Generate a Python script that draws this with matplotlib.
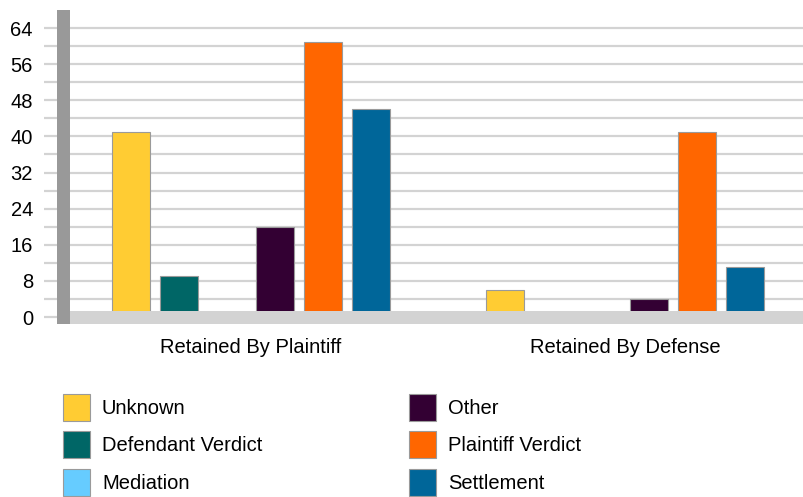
import matplotlib
matplotlib.use("Agg")
import matplotlib.pyplot as plt
from matplotlib.patches import Rectangle
import numpy as np

plt.rcParams['font.family'] = ['Liberation Sans', 'DejaVu Sans']

categories = ["Retained By Plaintiff", "Retained By Defense"]
series_names = ["Unknown", "Defendant Verdict", "Mediation", "Other", "Plaintiff Verdict", "Settlement"]
colors = ["#FFCC33", "#006666", "#66CCFF", "#330033", "#FF6600", "#006699"]
unknown = [41, 6]
defendant_verdict = [9, 0]
mediation = [0, 0]
other = [20, 4]
plaintiff_verdict = [61, 41]
settlement = [46, 11]
series_values = [unknown, defendant_verdict, mediation, other, plaintiff_verdict, settlement]
yticks = [0, 8, 16, 24, 32, 40, 48, 56, 64]

FS = 14.5
W, H = 804, 497
fig = plt.figure(figsize=(W / 100, H / 100), dpi=100)
ax = fig.add_axes([44 / W, 1 - 324 / H, (804 - 44) / W, (324 - 10) / H])

x = np.arange(len(categories))
step = 48 / 374
width = 38 / 374
for j, (name, vals, col) in enumerate(zip(series_names, series_values, colors)):
    ax.bar(x + (j - 2.5) * step, vals, width=width, color=col, edgecolor="#9a9a9a",
           linewidth=0.8, label=name, zorder=3)

ax.set_xlim((44 - 251) / 374, (804 - 251) / 374)
ax.set_ylim(-1.55, 68)

# gridlines
for v in range(0, 65, 4):
    ax.axhline(v, color="#d3d3d3", linewidth=1.6, zorder=1)

# wall and floor
wall_x0 = (57 - 251) / 374
wall_x1 = (70 - 251) / 374
ax.add_patch(Rectangle((wall_x0, -1.55), wall_x1 - wall_x0, 69.55, color="#999999", zorder=4, linewidth=0))
ax.add_patch(Rectangle((wall_x1, -1.55), 2.0, 1.55 + 1.33, color="#d3d3d3", zorder=4, linewidth=0))

for s in ax.spines.values():
    s.set_visible(False)
ax.set_yticks(yticks)
ax.set_yticklabels([str(t) for t in yticks], fontsize=FS)
ax.tick_params(axis='y', length=0, pad=8)
ax.set_xticks(x)
ax.set_xticklabels(categories, fontsize=FS)
ax.tick_params(axis='x', length=0, pad=10)

handles, labels = ax.get_legend_handles_labels()
fs_px = FS * 100 / 72
common = dict(loc="upper left", frameon=False, fontsize=FS, handlelength=27 / fs_px,
              handleheight=1.7, handletextpad=12 / fs_px, labelspacing=0.5,
              borderaxespad=0, borderpad=0)
leg1 = ax.legend(handles[:3], labels[:3], bbox_to_anchor=(63 / W, 1 - 394 / H),
                 bbox_transform=fig.transFigure, **common)
ax.add_artist(leg1)
leg2 = ax.legend(handles[3:], labels[3:], bbox_to_anchor=(409 / W, 1 - 394 / H),
                 bbox_transform=fig.transFigure, **common)

fig.savefig("out.png", dpi=100)
